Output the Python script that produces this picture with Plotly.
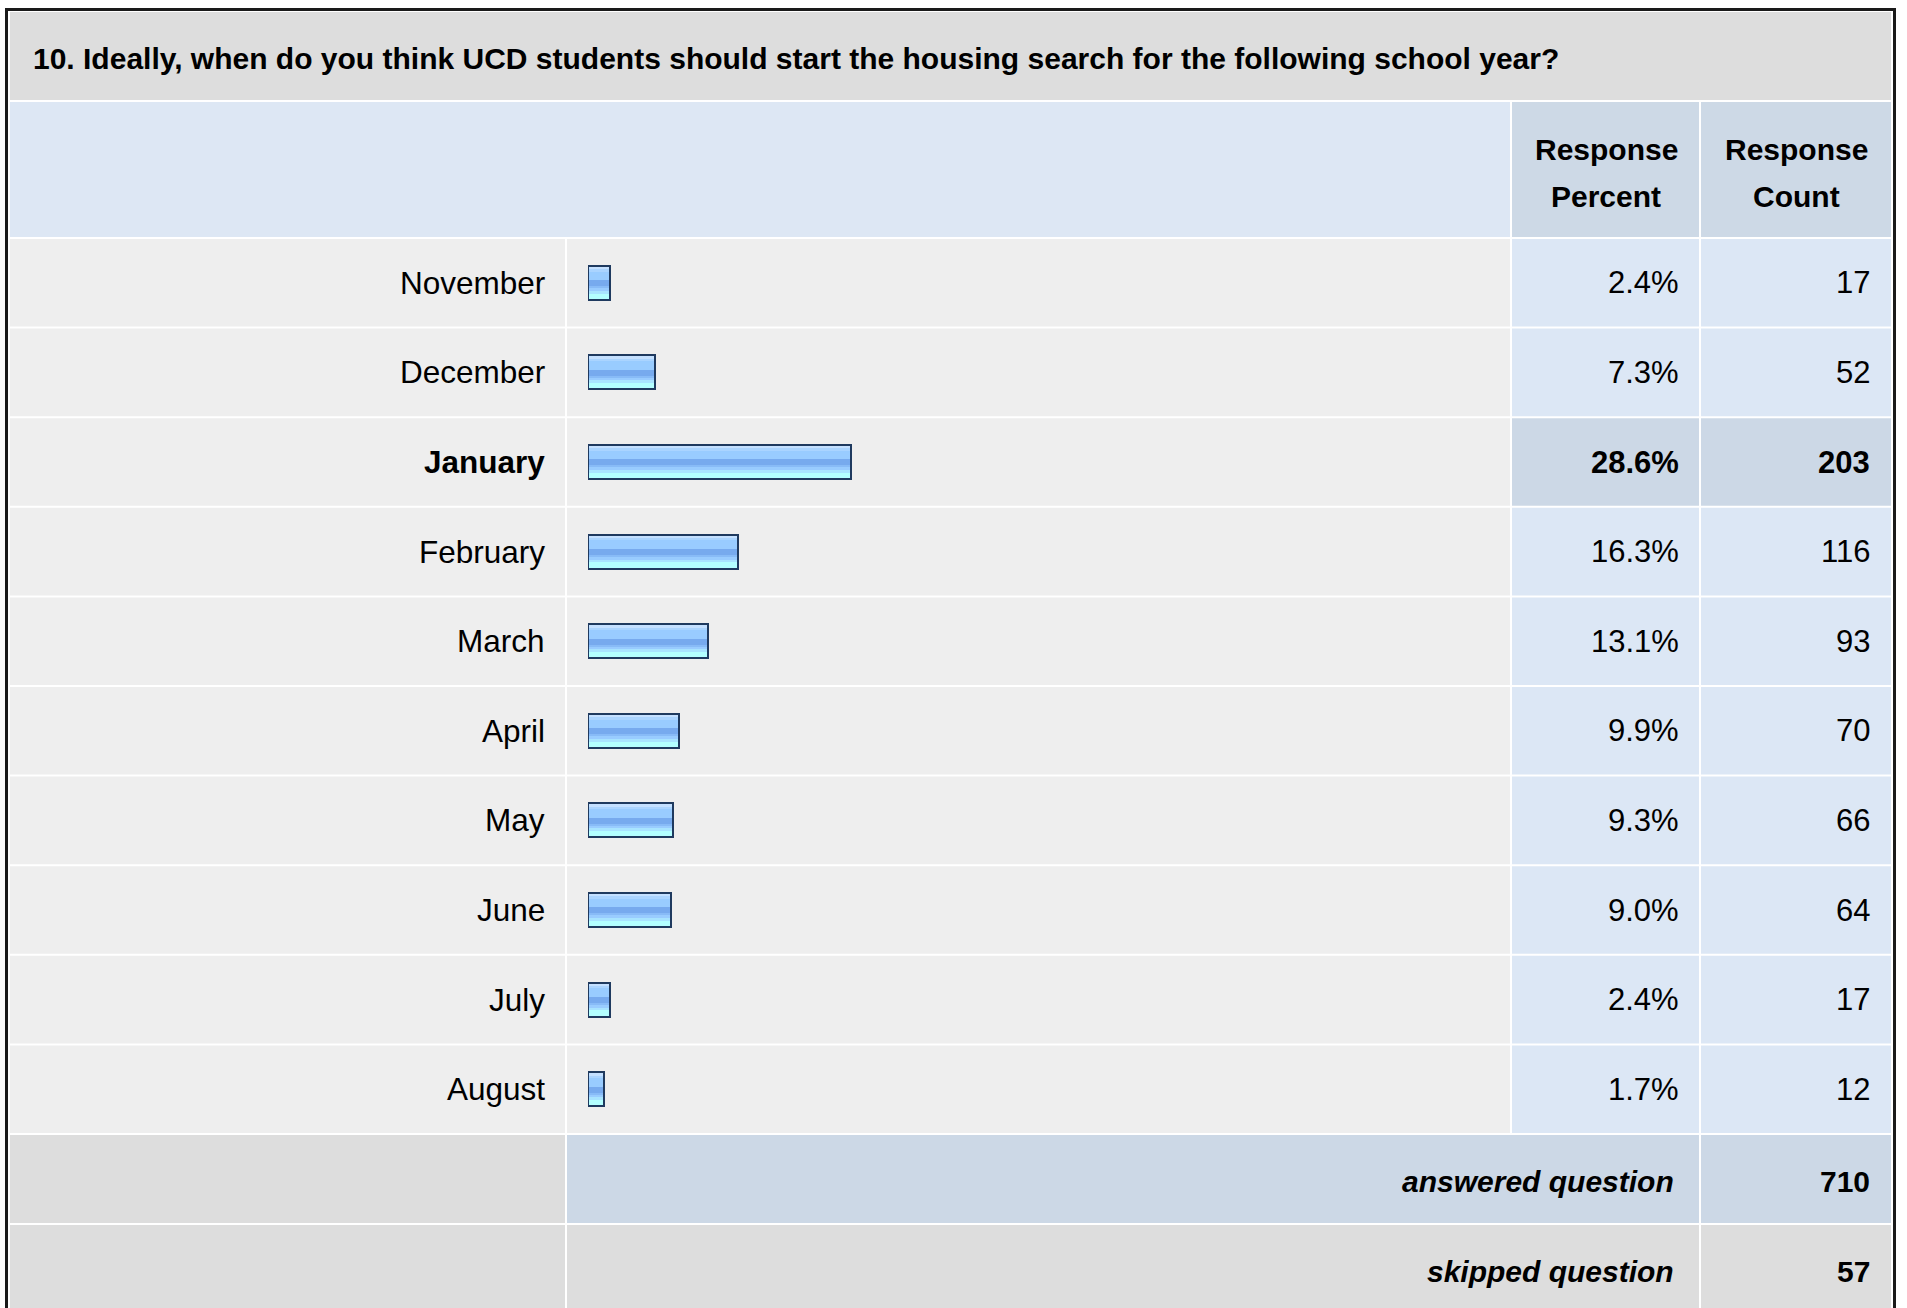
import plotly.graph_objects as go

# ---------------- data ----------------
title_text = "10. Ideally, when do you think UCD students should start the housing search for the following school year?"
months = ["November", "December", "January", "February", "March",
          "April", "May", "June", "July", "August"]
percents = [2.4, 7.3, 28.6, 16.3, 13.1, 9.9, 9.3, 9.0, 2.4, 1.7]
counts = [17, 52, 203, 116, 93, 70, 66, 64, 17, 12]
header_percent = ["Response", "Percent"]
header_count = ["Response", "Count"]
answered_label = "answered question"
answered_count = 710
skipped_label = "skipped question"
skipped_count = 57

# ---------------- layout geometry (pixels) ----------------
W, H = 1907, 1308
ROW_TOP, ROW_PITCH = 238, 89.6
n = len(months)
ROW_BOTTOM = ROW_TOP + ROW_PITCH * n


def PX(x):
    return x / W


def PY(y):
    return 1 - y / H


FONT = "Liberation Sans, Arial, Helvetica, sans-serif"
C_TITLE = "#dddddd"
C_HEAD = "#dde7f4"
C_HEAD_DARK = "#cdd9e6"
C_ROW = "#eeeeee"
C_CELL = "#dce7f5"
C_CELL_DARK = "#ccd8e6"
C_FOOT = "#dddddd"

COL_LABEL = (10, 565)
COL_BAR = (567, 1510)
COL_PCT = (1512, 1699)
COL_CNT = (1701, 1891)

top_idx = max(range(n), key=lambda i: percents[i])

fig = go.Figure()

# ---------------- bars (striped gradient) ----------------
ROWPX = ROW_PITCH
stripes = [
    (-16.0, -13.7, "#c4e0ff"),
    (-13.7, -11.3, "#aad4ff"),
    (-11.3, -2.7, "#99ccff"),
    (-2.7, 3.3, "#77aaee"),
    (3.3, 5.3, "#88bbf7"),
    (5.3, 8.0, "#99ccff"),
    (8.0, 10.7, "#a8e4ff"),
    (10.7, 16.0, "#b3ffff"),
]
ys = list(range(n))
for t, b, col in stripes:
    fig.add_trace(go.Bar(
        x=percents, y=ys, orientation="h",
        offset=t / ROWPX, width=(b - t) / ROWPX,
        marker=dict(color=col, line=dict(width=0)),
        hoverinfo="skip", showlegend=False,
    ))
fig.add_trace(go.Bar(
    x=percents, y=ys, orientation="h",
    offset=-17 / ROWPX, width=34 / ROWPX,
    marker=dict(color="rgba(0,0,0,0)", line=dict(color="#1f3a5f", width=2)),
    hovertemplate="%{x}%<extra></extra>", showlegend=False,
))

shapes = []


def rect(x0, x1, y0, y1, color):
    shapes.append(dict(type="rect", xref="paper", yref="paper",
                       x0=PX(x0), x1=PX(x1), y0=PY(y0), y1=PY(y1),
                       fillcolor=color, line=dict(width=0), layer="below"))


def row_rect(x0, x1, i, color):
    g = 1 / ROWPX
    shapes.append(dict(type="rect", xref="paper", yref="y",
                       x0=PX(x0), x1=PX(x1), y0=i - 0.5 + g, y1=i + 0.5 - g,
                       fillcolor=color, line=dict(width=0), layer="below"))


# title band
rect(10, 1891, 12, 100, C_TITLE)
# header
rect(COL_LABEL[0], COL_BAR[1], 102, 237, C_HEAD)
rect(COL_PCT[0], COL_PCT[1], 102, 237, C_HEAD_DARK)
rect(COL_CNT[0], COL_CNT[1], 102, 237, C_HEAD_DARK)
# data rows
for i in range(n):
    row_rect(COL_LABEL[0], COL_LABEL[1], i, C_ROW)
    row_rect(COL_BAR[0], COL_BAR[1], i, C_ROW)
    cc = C_CELL_DARK if i == top_idx else C_CELL
    row_rect(COL_PCT[0], COL_PCT[1], i, cc)
    row_rect(COL_CNT[0], COL_CNT[1], i, cc)
# footer rows
a0, a1 = ROW_BOTTOM + 1, ROW_BOTTOM + 89
s0, s1 = ROW_BOTTOM + 91, H + 20
rect(COL_LABEL[0], COL_LABEL[1], a0, a1, C_FOOT)
rect(COL_BAR[0], COL_PCT[1], a0, a1, C_CELL_DARK)
rect(COL_CNT[0], COL_CNT[1], a0, a1, C_CELL_DARK)
rect(COL_LABEL[0], COL_LABEL[1], s0, s1, C_FOOT)
rect(COL_BAR[0], COL_PCT[1], s0, s1, C_FOOT)
rect(COL_CNT[0], COL_CNT[1], s0, s1, C_FOOT)
# outer frame
shapes.append(dict(type="rect", xref="paper", yref="paper",
                   x0=PX(6.5), x1=PX(1894.5), y0=PY(9.5), y1=PY(H + 30),
                   fillcolor="rgba(0,0,0,0)", line=dict(color="#1a1a1a", width=3),
                   layer="above"))

ann = []


def text(x, y, s, anchor="left", size=30, bold=False, italic=False, yref="paper"):
    if italic:
        s = "<i>" + s + "</i>"
    if bold:
        s = "<b>" + s + "</b>"
    ann.append(dict(x=PX(x), y=(PY(y) if yref == "paper" else y),
                    xref="paper", yref=yref, text=s, showarrow=False,
                    xanchor=anchor, yanchor="middle",
                    font=dict(family=FONT, size=size, color="#000000")))


text(30.5, 59, title_text, "left", size=30, bold=True)
text(1606, 150, header_percent[0], "center", bold=True)
text(1606, 196, header_percent[1], "center", bold=True)
text(1796, 150, header_count[0], "center", bold=True)
text(1796, 196, header_count[1], "center", bold=True)

for i in range(n):
    b = i == top_idx
    text(546.5, i, months[i], "right", size=31.5, bold=b, yref="y")
    text(1681, i, f"{percents[i]:.1f}%", "right", size=31, bold=b, yref="y")
    text(1871.5, i, f"{counts[i]}", "right", size=31, bold=b, yref="y")

text(1675.5, (a0 + a1) / 2 + 2, answered_label, "right", size=30, bold=True, italic=True)
text(1871.5, (a0 + a1) / 2 + 2, f"{answered_count}", "right", size=30, bold=True)
text(1675.5, (s0 + H) / 2 + 5, skipped_label, "right", size=30, bold=True, italic=True)
text(1871.5, (s0 + H) / 2 + 5, f"{skipped_count}", "right", size=30, bold=True)

fig.update_layout(
    width=W, height=H,
    margin=dict(l=0, r=0, t=0, b=0),
    paper_bgcolor="#ffffff", plot_bgcolor="rgba(0,0,0,0)",
    barmode="overlay", bargap=0,
    showlegend=False,
    shapes=shapes, annotations=ann,
    xaxis=dict(domain=[PX(588), PX(1507)], range=[0, 100], visible=False,
               fixedrange=True),
    yaxis=dict(domain=[PY(ROW_BOTTOM), PY(ROW_TOP)], range=[n - 0.5, -0.5],
               visible=False, fixedrange=True),
)

fig.write_html("out.html", config={"displayModeBar": False},
               post_script="document.body.style.margin='0px';document.body.style.overflow='hidden';")
